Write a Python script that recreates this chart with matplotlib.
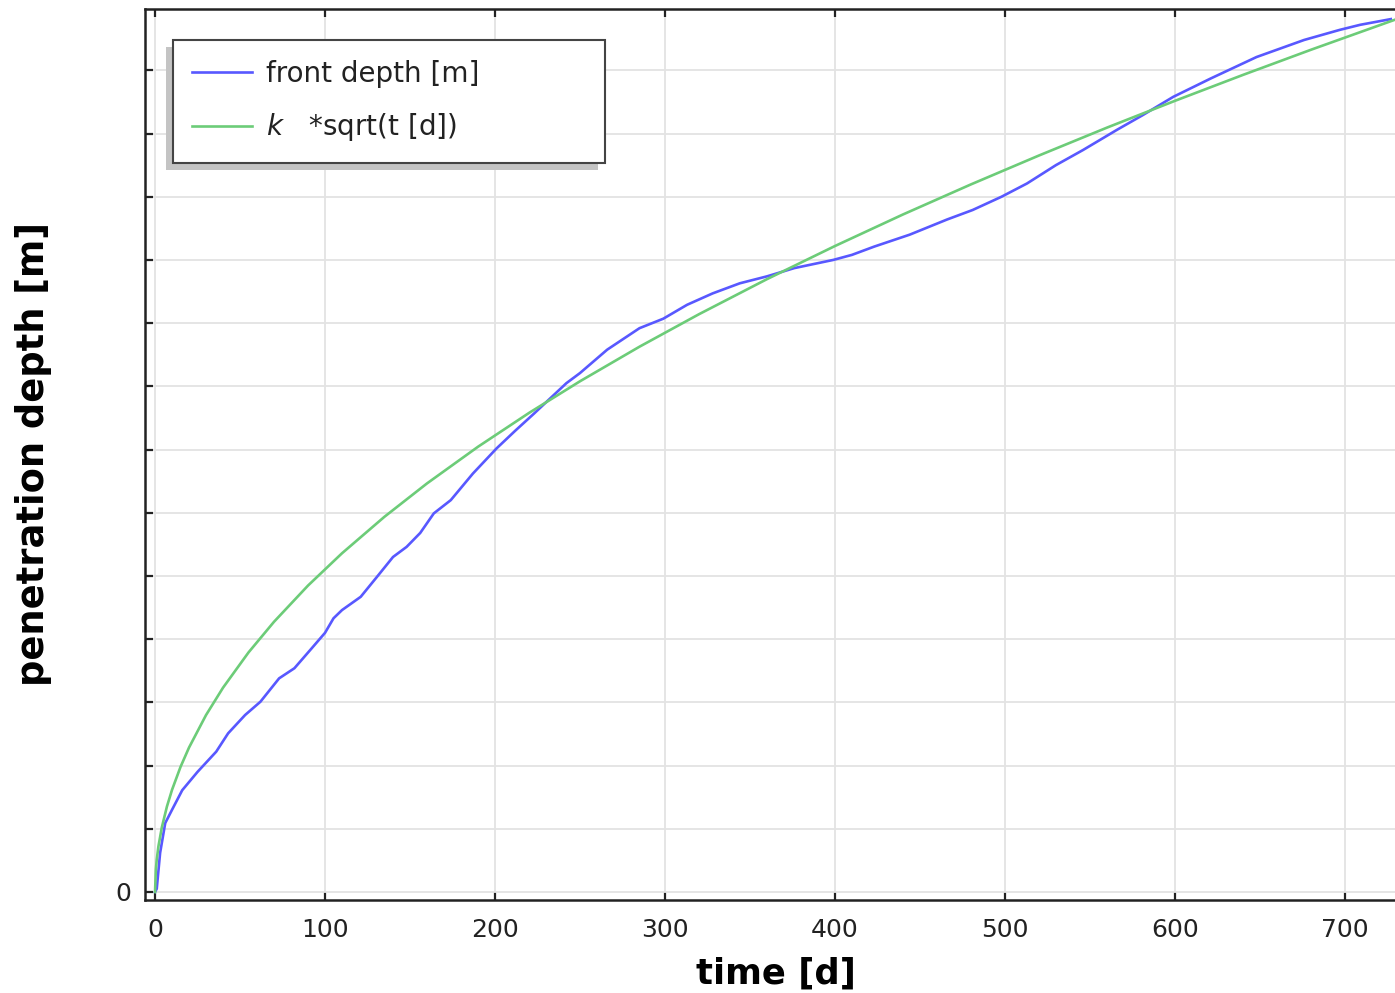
import matplotlib
matplotlib.use("Agg")
import matplotlib.pyplot as plt

# front depth (t in days, depth in grid units)
front_t = [0, 1, 3, 6, 10, 16, 25, 36, 43, 53, 62, 73, 82, 92, 100, 105, 110,
           121, 131, 140, 148, 156, 164, 174, 187, 201, 212, 223, 242, 250,
           266, 285, 299, 313, 328, 344, 360, 376, 399, 410, 423, 444, 466,
           481, 498, 513, 530, 546, 566, 581, 599, 621, 648, 676, 697, 709, 727]
front_d = [0, 0.05, 0.62, 1.09, 1.30, 1.61, 1.90, 2.22, 2.51, 2.80, 3.01, 3.38,
           3.54, 3.85, 4.10, 4.33, 4.46, 4.67, 5.00, 5.30, 5.46, 5.68, 5.99,
           6.20, 6.62, 7.02, 7.30, 7.57, 8.05, 8.21, 8.58, 8.92, 9.07, 9.29,
           9.47, 9.63, 9.74, 9.87, 10.00, 10.08, 10.21, 10.40, 10.64, 10.79,
           11.00, 11.21, 11.50, 11.74, 12.06, 12.29, 12.58, 12.87, 13.21,
           13.48, 13.64, 13.72, 13.81]

# k*sqrt(t) curve
fit_t = [0, 0.5, 1, 2, 4, 7, 10, 15, 20, 30, 40, 55, 70, 90, 110, 135, 160,
         190, 220, 250, 285, 320, 360, 400, 440, 480, 520, 560, 600, 640,
         680, 730]
fit_d = [0, 0.361, 0.511, 0.723, 1.022, 1.352, 1.616, 1.979, 2.285, 2.799,
         3.232, 3.790, 4.275, 4.848, 5.359, 5.937, 6.464, 7.044, 7.579, 8.080,
         8.627, 9.141, 9.696, 10.220, 10.719, 11.195, 11.652, 12.093, 12.517,
         12.927, 13.325, 13.806]

xticks = [0, 100, 200, 300, 400, 500, 600, 700]
yticks = list(range(14))

fig = plt.figure(figsize=(13.95, 9.93), dpi=100)
W, H = 1395.0, 993.0
ax = fig.add_axes([145 / W, (H - 900) / H, (1400 - 145) / W, (900 - 9) / H])

ax.plot(front_t, front_d, color="#5858ff", lw=1.9, label="front depth [m]")
ax.plot(fit_t, fit_d, color="#6ccc78", lw=1.9, label=r"$k$   *sqrt(t [d])")

ax.set_xlim(-5.9, 732.4)
ax.set_ylim(-0.127, 13.97)
ax.set_xticks(xticks)
ax.set_xticklabels([str(v) for v in xticks])
ax.set_yticks(yticks)
ax.set_yticklabels(["0"] + [""] * (len(yticks) - 1))

ax.grid(True, color="#e3e3e3", lw=1.3)
ax.set_axisbelow(True)
for s in ["left", "bottom", "top"]:
    ax.spines[s].set_linewidth(1.8)
    ax.spines[s].set_color("#222222")
ax.spines["right"].set_visible(False)
ax.tick_params(direction="in", length=6, width=1.6, color="#222222",
               labelsize=18, top=True, right=False, labelcolor="#222222")
ax.tick_params(axis="x", pad=13)
ax.tick_params(axis="y", pad=10)

ax.set_xlabel("time [d]", fontsize=25.5, fontweight="bold")
ax.set_ylabel("penetration depth [m]", fontsize=26.5, fontweight="bold")
ax.xaxis.set_label_coords(0.503, -0.063)
ax.yaxis.set_label_coords(-0.074, 0.5)

leg = ax.legend(loc="upper left", bbox_to_anchor=(0.0223, 0.83, 0.344, 0.135),
                mode="expand", borderaxespad=0, fontsize=20, fancybox=False,
                framealpha=1, edgecolor="#444444", handlelength=2.15,
                handletextpad=0.5, borderpad=0.7, labelspacing=0.85,
                shadow={"ox": -5, "oy": -5, "facecolor": "#c4c4c4",
                        "edgecolor": "none", "alpha": 1})
leg.get_frame().set_linewidth(1.5)
for txt in leg.get_texts():
    txt.set_color("#222222")

fig.savefig("out.png", dpi=100)
